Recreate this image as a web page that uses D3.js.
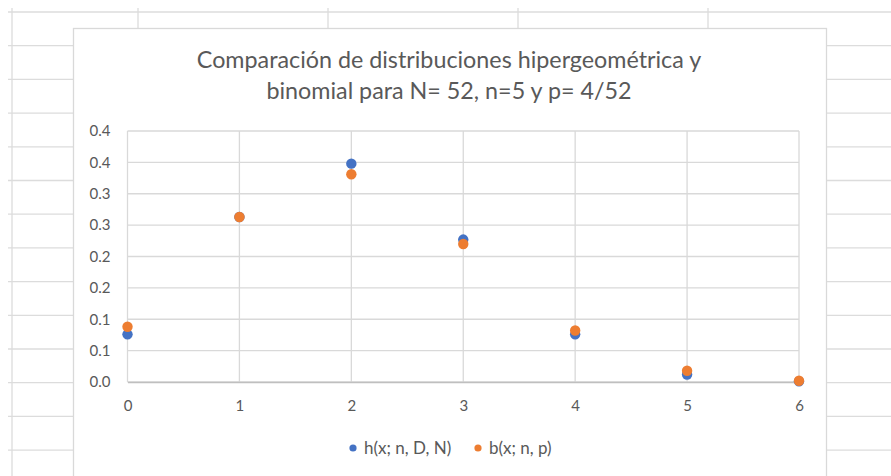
<!DOCTYPE html>
<html>
<head>
<meta charset="utf-8">
<script src="https://cdn.jsdelivr.net/npm/d3@7"></script>
<style>
  html, body { margin: 0; padding: 0; background: #ffffff; }
  svg { display: block; }
  text { font-family: Lato, "Open Sans", sans-serif; fill: #595959; }
</style>
</head>
<body>
<svg id="chart" width="891" height="476"></svg>
<script>
// ---- data ----
const xValues = [0, 1, 2, 3, 4, 5, 6];
const hypergeometric = [0.076, 0.263, 0.348, 0.227, 0.076, 0.012, 0.001];
const binomial = [0.088, 0.263, 0.331, 0.220, 0.082, 0.018, 0.002];
const seriesNames = ["h(x; n, D, N)", "b(x; n, p)"];
const yTickValues = [0, 0.05, 0.10, 0.15, 0.20, 0.25, 0.30, 0.35, 0.40];
const yTickLabels = ["0.0", "0.1", "0.1", "0.2", "0.2", "0.3", "0.3", "0.4", "0.4"];
const xTickLabels = ["0", "1", "2", "3", "4", "5", "6"];
const titleLines = ["Comparación de distribuciones hipergeométrica y", "binomial para N= 52, n=5 y p= 4/52"];

const colors = ["#4472C4", "#ED7D31"];

const svg = d3.select("#chart");

// ---- spreadsheet background grid ----
const sheet = svg.append("g").attr("stroke", "#dcdcdc").attr("stroke-width", 1.3);
for (let k = 0; k < 14; k++) {
  const yy = 12 + 33.7 * k;
  sheet.append("line").attr("x1", 8).attr("x2", 891).attr("y1", yy).attr("y2", yy);
}
[12, 138, 328, 518, 708].forEach(xx => {
  sheet.append("line").attr("x1", xx).attr("x2", xx).attr("y1", 8).attr("y2", 476);
});

// ---- chart area ----
svg.append("rect")
  .attr("x", 73.5).attr("y", 28.5).attr("width", 753).attr("height", 470)
  .attr("fill", "#ffffff").attr("stroke", "#d9d9d9").attr("stroke-width", 1.3);

// ---- title ----
const title = svg.append("text")
  .attr("text-anchor", "middle")
  .attr("font-size", 23.3);
titleLines.forEach((t, i) => {
  title.append("tspan").attr("x", 449).attr("y", 68 + i * 31).text(t);
});

// ---- scales ----
const x = d3.scaleLinear().domain([0, 6]).range([127.5, 799]);
const y = d3.scaleLinear().domain([0, 0.4]).range([382, 131]);

// gridlines
const grid = svg.append("g");
grid.selectAll("line.h").data(yTickValues).enter().append("line")
  .attr("x1", x(0)).attr("x2", x(6))
  .attr("y1", d => y(d)).attr("y2", d => y(d))
  .attr("stroke", "#d9d9d9").attr("stroke-width", 1.3);
grid.selectAll("line.v").data(xValues).enter().append("line")
  .attr("x1", d => x(d)).attr("x2", d => x(d))
  .attr("y1", y(0)).attr("y2", y(0.4))
  .attr("stroke", "#d9d9d9").attr("stroke-width", 1.3);

// axes
const yAxis = d3.axisLeft(y).tickValues(yTickValues)
  .tickFormat((d, i) => yTickLabels[i]).tickSize(0).tickPadding(17);
const yg = svg.append("g").attr("transform", `translate(${x(0)},0)`).call(yAxis);
yg.select(".domain").remove();
yg.selectAll("text").attr("font-size", 15).attr("font-family", "Lato, sans-serif").attr("fill", "#595959");

const xAxis = d3.axisBottom(x).tickValues(xValues)
  .tickFormat((d, i) => xTickLabels[i]).tickSize(0).tickPadding(18);
const xg = svg.append("g").attr("transform", `translate(0,${y(0)})`).call(xAxis);
xg.select(".domain").attr("stroke", "#bfbfbf").attr("stroke-width", 1.5);
xg.selectAll("text").attr("font-size", 15).attr("font-family", "Lato, sans-serif").attr("fill", "#595959");

// points
[hypergeometric, binomial].forEach((series, si) => {
  svg.append("g").selectAll("circle").data(series).enter().append("circle")
    .attr("cx", (d, i) => x(xValues[i]))
    .attr("cy", d => y(d))
    .attr("r", 5.2)
    .attr("fill", colors[si]);
});

// legend
const legendItems = [{ name: seriesNames[0], cx: 353, tx: 364 }, { name: seriesNames[1], cx: 478, tx: 489 }];
const lg = svg.append("g");
legendItems.forEach((it, i) => {
  lg.append("circle").attr("cx", it.cx).attr("cy", 448).attr("r", 3.6).attr("fill", colors[i]);
  lg.append("text").attr("x", it.tx).attr("y", 448).attr("dy", "0.35em")
    .attr("font-size", 17).text(it.name);
});
</script>
</body>
</html>
